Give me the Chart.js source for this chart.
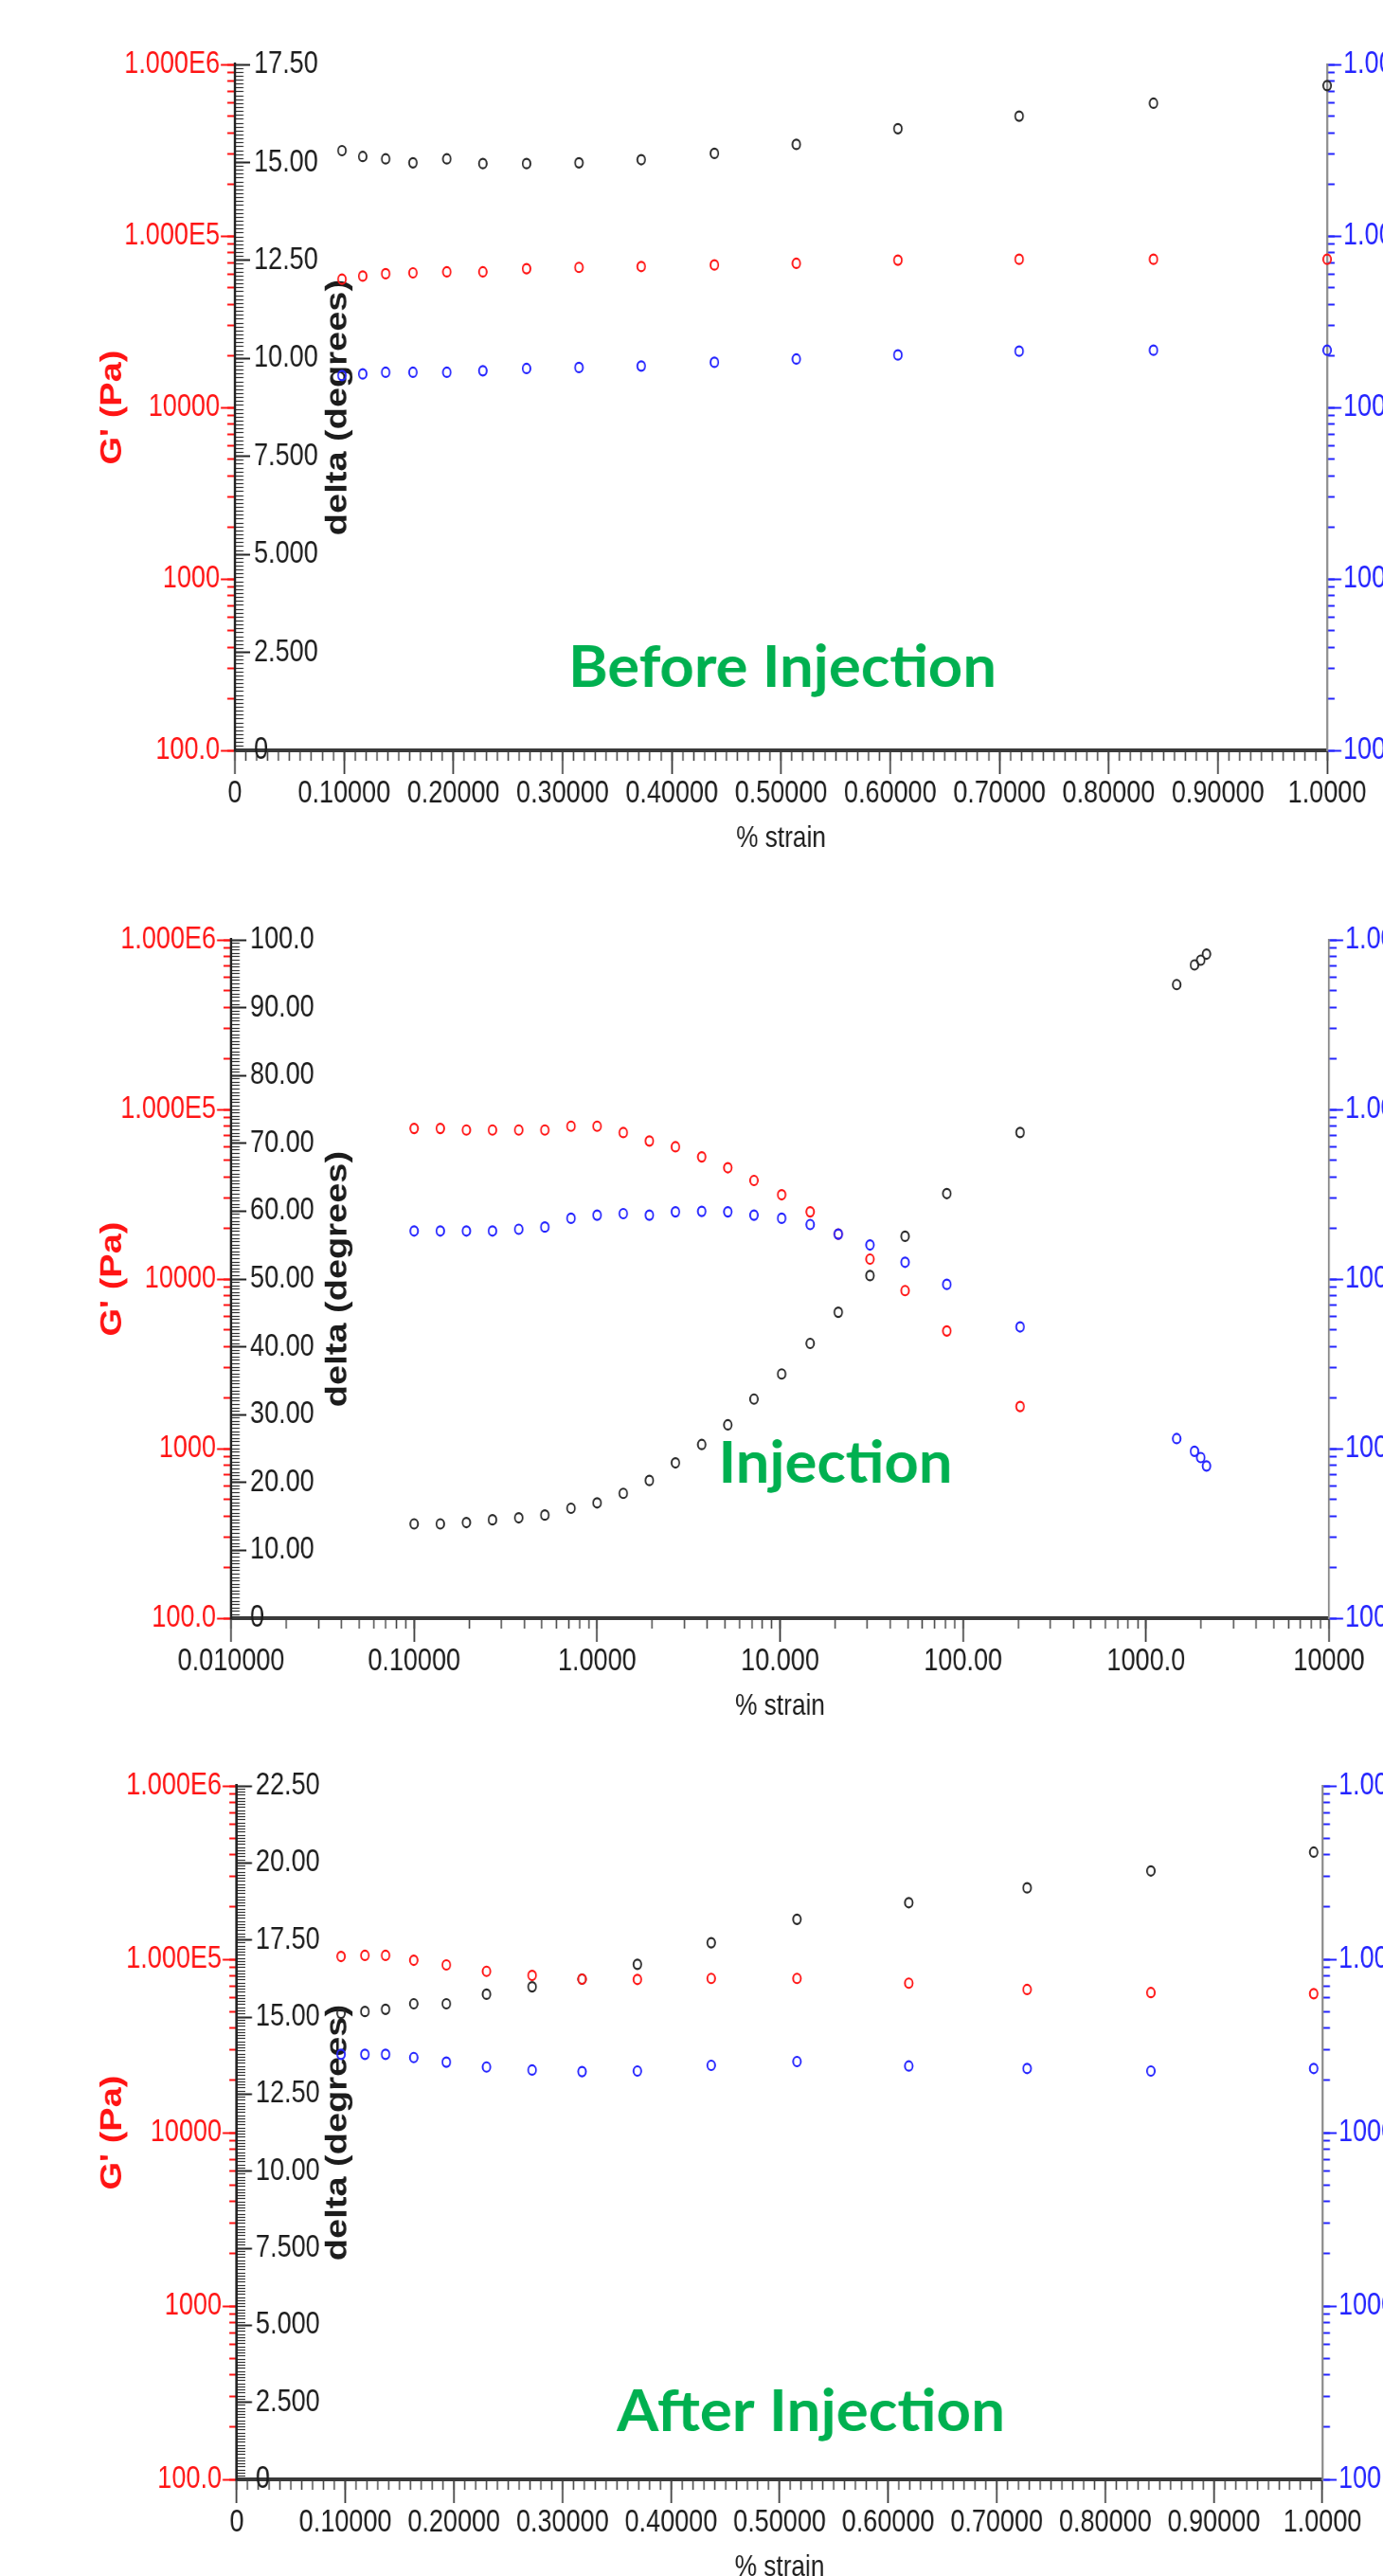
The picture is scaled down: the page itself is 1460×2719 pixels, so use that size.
<!DOCTYPE html>
<html>
<head>
<meta charset="utf-8">
<title>Strain sweeps</title>
<script src="https://cdn.jsdelivr.net/npm/chart.js@4.4.1/dist/chart.umd.min.js"></script>
<style>
  html, body { margin: 0; padding: 0; background: #fff; overflow: hidden; }
  body { width: 1460px; height: 2719px; position: relative; }
  canvas { position: absolute; left: 0; transform-origin: 0 0; }
</style>
</head>
<body>
<canvas id="before" width="1781" height="922" style="top:0px"></canvas>
<canvas id="injection" width="1781" height="918" style="top:920px"></canvas>
<canvas id="after" width="1781" height="927" style="top:1820px"></canvas>
<script>
// Before injection (% strain, G' Pa, G'' Pa, delta degrees)
const beforeStrain = [0.098, 0.117, 0.138, 0.163, 0.194, 0.227, 0.267, 0.315, 0.372, 0.439, 0.514, 0.607, 0.718, 0.841, 1.0];
const beforeGp = [55900, 58300, 60200, 60900, 61700, 61700, 64400, 65500, 66300, 67700, 69200, 72200, 73100, 73100, 73100];
const beforeGpp = [15340, 15680, 16020, 16020, 16020, 16350, 16860, 17080, 17420, 18320, 19140, 20220, 21280, 21540, 21540];
const beforeDelta = [15.30, 15.15, 15.09, 14.99, 15.09, 14.97, 14.97, 14.99, 15.07, 15.23, 15.46, 15.86, 16.18, 16.51, 16.96];

// Injection
const injStrain = [0.100, 0.139, 0.193, 0.268, 0.373, 0.518, 0.720, 1.00, 1.39, 1.93, 2.68, 3.73, 5.18, 7.20, 10.2, 14.6, 20.8, 31.0, 48.2, 81.5, 205, 1470, 1840, 1990, 2140];
const injGp = [77200, 77200, 75600, 75600, 75600, 75600, 79600, 79600, 73000, 65100, 60200, 52500, 45300, 38100, 31400, 24900, 18400, 13100, 8540, 4940, 1770];
const injGpp = [19200, 19200, 19200, 19200, 19650, 20240, 22800, 23800, 24300, 23800, 24900, 25060, 24900, 23800, 22800, 20950, 18400, 15880, 12560, 9300, 5220, 1145, 964, 885, 790];
const injDelta = [13.9, 13.9, 14.1, 14.5, 14.8, 15.2, 16.2, 17.0, 18.4, 20.3, 22.9, 25.6, 28.5, 32.3, 36.0, 40.5, 45.1, 50.5, 56.3, 62.6, 71.6, 93.4, 96.3, 97.0, 97.9];

// After injection
const afterStrain = [0.096, 0.118, 0.137, 0.163, 0.193, 0.230, 0.272, 0.318, 0.369, 0.437, 0.516, 0.619, 0.728, 0.842, 0.992];
const afterGp = [103800, 105200, 105200, 98700, 92700, 85200, 80700, 76800, 76500, 77500, 77500, 72800, 66900, 64200, 63300];
const afterGpp = [28300, 28300, 28300, 27100, 25500, 23900, 22960, 22490, 22650, 24430, 25700, 24220, 23440, 22650, 23440];
const afterDelta = [15.12, 15.18, 15.25, 15.43, 15.43, 15.74, 15.98, 16.23, 16.71, 17.41, 18.17, 18.71, 19.19, 19.74, 20.35];

// Tick values and labels
const modTicks = [100, 1000, 10000, 100000, 1000000];
const modLabels = ['100.0', '1000', '10000', '1.000E5', '1.000E6'];
const linStrainTicks = [0, 0.1, 0.2, 0.3, 0.4, 0.5, 0.6, 0.7, 0.8, 0.9, 1.0];
const linStrainLabels = ['0', '0.10000', '0.20000', '0.30000', '0.40000', '0.50000', '0.60000', '0.70000', '0.80000', '0.90000', '1.0000'];
const logStrainTicks = [0.01, 0.1, 1, 10, 100, 1000, 10000];
const logStrainLabels = ['0.010000', '0.10000', '1.0000', '10.000', '100.00', '1000.0', '10000'];
const delta175Ticks = [0, 2.5, 5, 7.5, 10, 12.5, 15, 17.5];
const delta175Labels = ['0', '2.500', '5.000', '7.500', '10.00', '12.50', '15.00', '17.50'];
const delta100Ticks = [0, 10, 20, 30, 40, 50, 60, 70, 80, 90, 100];
const delta100Labels = ['0', '10.00', '20.00', '30.00', '40.00', '50.00', '60.00', '70.00', '80.00', '90.00', '100.0'];
const delta225Ticks = [0, 2.5, 5, 7.5, 10, 12.5, 15, 17.5, 20, 22.5];
const delta225Labels = ['0', '2.500', '5.000', '7.500', '10.00', '12.50', '15.00', '17.50', '20.00', '22.50'];

const RED = '#ff1414';
const BLUE = '#2424ff';
const INK = '#1c1c1c';

// the canvases are drawn wide and squeezed horizontally, like the original picture
const CW = 1781;
const SX = 1460 / CW;
const ix = v => v / SX;

Chart.defaults.font.family = '"Liberation Sans Narrow", "Liberation Sans", Arial, sans-serif';
const tickFont = { size: 33, lineHeight: 1 };
const titleFont = { family: '"Liberation Sans", Arial, sans-serif', size: 38, weight: 'bold', lineHeight: 1 };

function logTicks(lo, hi) {
  const out = [];
  for (let e = Math.round(Math.log10(lo)); e < Math.round(Math.log10(hi)); e++) {
    for (let m = 1; m < 10; m++) out.push({ value: m * Math.pow(10, e) });
  }
  out.push({ value: hi });
  return out;
}

function fixSize(w, h) {
  return s => {
    if (w !== null) s.width = w;
    if (h !== null) s.height = h;
    s.paddingTop = s.paddingBottom = s.paddingLeft = s.paddingRight = 0;
  };
}

function series(xs, ys, color, axis) {
  return {
    data: ys.map((y, i) => ({ x: xs[i], y: y })),
    xAxisID: 'x', yAxisID: axis,
    borderColor: color, backgroundColor: 'rgba(0,0,0,0)',
    pointRadius: 5, pointBorderWidth: 2.2, pointHoverRadius: 5,
    showLine: false, clip: false
  };
}

// Green caption drawn over the plot
const notePlugin = {
  id: 'note',
  afterDraw(chart, args, opts) {
    const ctx = chart.ctx;
    ctx.save();
    ctx.font = 'bold 62px Lato, "Open Sans", sans-serif';
    ctx.fillStyle = '#00b050';
    ctx.textAlign = 'center';
    ctx.textBaseline = 'alphabetic';
    const w = ctx.measureText(opts.text).width;
    ctx.translate(ix(opts.x), opts.y);
    ctx.scale(ix(opts.width) / w, 1);
    ctx.fillText(opts.text, 0, 0);
    ctx.restore();
  }
};

function makeChart(id, d) {
  const axisH = 130;
  const leftW = ix(d.left);
  const rightW = CW - ix(d.right);
  const isLog = d.xType === 'logarithmic';

  const scales = {
    x: {
      type: d.xType, position: 'bottom', weight: 1, min: d.xTicks[0], max: d.xTicks[d.xTicks.length - 1],
      afterBuildTicks: s => { s.ticks = d.xTicks.map(v => ({ value: v })); },
      afterFit: fixSize(null, axisH),
      grid: { drawOnChartArea: false, tickLength: 25, tickWidth: 2, tickColor: '#333' },
      border: { color: '#3a3a3a', width: 4 },
      ticks: { autoSkip: false, maxRotation: 0, padding: 4, color: INK, font: tickFont, callback: (v, i) => d.xLabels[i] },
      title: { display: true, text: '% strain', color: INK, font: { size: 32, lineHeight: 1 }, padding: { top: 0, bottom: 21 } }
    },
    xMinor: {
      type: d.xType, position: 'bottom', weight: 0, min: d.xTicks[0], max: d.xTicks[d.xTicks.length - 1],
      afterBuildTicks: isLog ? (s => { s.ticks = logTicks(0.01, 10000); }) : undefined,
      afterFit: fixSize(null, 0),
      grid: { drawOnChartArea: false, tickLength: 11, tickWidth: 1.8, tickColor: '#444' },
      border: { display: false },
      ticks: { display: false, stepSize: isLog ? undefined : 0.01 }
    },
    yG: {
      type: 'logarithmic', position: 'left', weight: 3, min: 100, max: 1000000,
      afterBuildTicks: s => { s.ticks = modTicks.map(v => ({ value: v })); },
      afterFit: fixSize(leftW, null),
      grid: { drawOnChartArea: false, tickLength: ix(15), tickWidth: 2, tickColor: RED },
      border: { color: '#222', width: ix(2.5) },
      ticks: { autoSkip: false, padding: ix(1), color: RED, font: tickFont, callback: (v, i) => modLabels[i] },
      title: { display: true, text: "G' (Pa)", color: RED, font: titleFont, padding: { top: ix(119) - 19, bottom: 0 } }
    },
    yGMinor: {
      type: 'logarithmic', position: 'left', weight: 2, min: 100, max: 1000000,
      afterBuildTicks: s => { s.ticks = logTicks(100, 1000000); },
      afterFit: fixSize(0, null),
      grid: { drawOnChartArea: false, tickLength: ix(8), tickWidth: 2, tickColor: RED },
      border: { display: false },
      ticks: { display: false }
    },
    yD: {
      type: 'linear', position: 'left', weight: 1, min: 0, max: d.dTicks[d.dTicks.length - 1],
      afterBuildTicks: s => { s.ticks = d.dTicks.map(v => ({ value: v })); },
      afterFit: fixSize(0, null),
      grid: { drawOnChartArea: false, tickLength: -ix(16), tickWidth: 2, tickColor: '#222' },
      border: { display: false },
      ticks: { mirror: true, autoSkip: false, padding: ix(20), color: INK, font: tickFont, callback: (v, i) => d.dLabels[i] },
      title: { display: true, text: 'delta (degrees)', color: INK, font: titleFont, padding: { top: ix(357) - leftW - 19, bottom: 0 } }
    },
    yDMinor: {
      type: 'linear', position: 'left', weight: 0, min: 0, max: d.dTicks[d.dTicks.length - 1],
      afterFit: fixSize(0, null),
      grid: { drawOnChartArea: false, tickLength: -ix(9), tickWidth: 1.2, tickColor: '#333' },
      border: { display: false },
      ticks: { display: false, stepSize: d.dMinor }
    },
    yR: {
      type: 'logarithmic', position: 'right', weight: 1, min: 100, max: 1000000,
      afterBuildTicks: s => { s.ticks = modTicks.map(v => ({ value: v })); },
      afterFit: fixSize(rightW, null),
      grid: { drawOnChartArea: false, tickLength: ix(15), tickWidth: 2, tickColor: BLUE },
      border: { color: '#888', width: ix(2) },
      ticks: { autoSkip: false, padding: ix(2), color: BLUE, font: tickFont, callback: (v, i) => modLabels[i] }
    },
    yRMinor: {
      type: 'logarithmic', position: 'right', weight: 0, min: 100, max: 1000000,
      afterBuildTicks: s => { s.ticks = logTicks(100, 1000000); },
      afterFit: fixSize(0, null),
      grid: { drawOnChartArea: false, tickLength: ix(8), tickWidth: 2, tickColor: BLUE },
      border: { display: false },
      ticks: { display: false }
    }
  };

  const canvas = document.getElementById(id);
  canvas.style.transform = 'scaleX(' + SX + ')';
  return new Chart(canvas, {
    type: 'scatter',
    data: {
      datasets: [
        series(d.strain, d.gpp, BLUE, 'yR'),
        series(d.strain, d.gp, RED, 'yG'),
        series(d.strain, d.delta, '#2a2a2a', 'yD')
      ]
    },
    options: {
      responsive: false,
      animation: false,
      events: [],
      layout: { padding: { top: d.top, left: 0, right: 0, bottom: 0 }, autoPadding: false },
      scales: scales,
      plugins: {
        legend: { display: false },
        tooltip: { enabled: false },
        note: d.note
      }
    },
    plugins: [notePlugin]
  });
}

makeChart('before', {
  xType: 'linear', xTicks: linStrainTicks, xLabels: linStrainLabels,
  dTicks: delta175Ticks, dLabels: delta175Labels, dMinor: 0.1,
  strain: beforeStrain, gp: beforeGp, gpp: beforeGpp, delta: beforeDelta,
  left: 248, right: 1401, top: 68,
  note: { text: 'Before Injection', x: 826, y: 725, width: 452 }
});

makeChart('injection', {
  xType: 'logarithmic', xTicks: logStrainTicks, xLabels: logStrainLabels,
  dTicks: delta100Ticks, dLabels: delta100Labels, dMinor: 0.5,
  strain: injStrain, gp: injGp, gpp: injGpp, delta: injDelta,
  left: 244, right: 1403, top: 72,
  note: { text: 'Injection', x: 882, y: 645, width: 247 }
});

makeChart('after', {
  xType: 'linear', xTicks: linStrainTicks, xLabels: linStrainLabels,
  dTicks: delta225Ticks, dLabels: delta225Labels, dMinor: 0.1,
  strain: afterStrain, gp: afterGp, gpp: afterGpp, delta: afterDelta,
  left: 250, right: 1396, top: 65,
  note: { text: 'After Injection', x: 856, y: 746, width: 410 }
});
</script>
</body>
</html>
